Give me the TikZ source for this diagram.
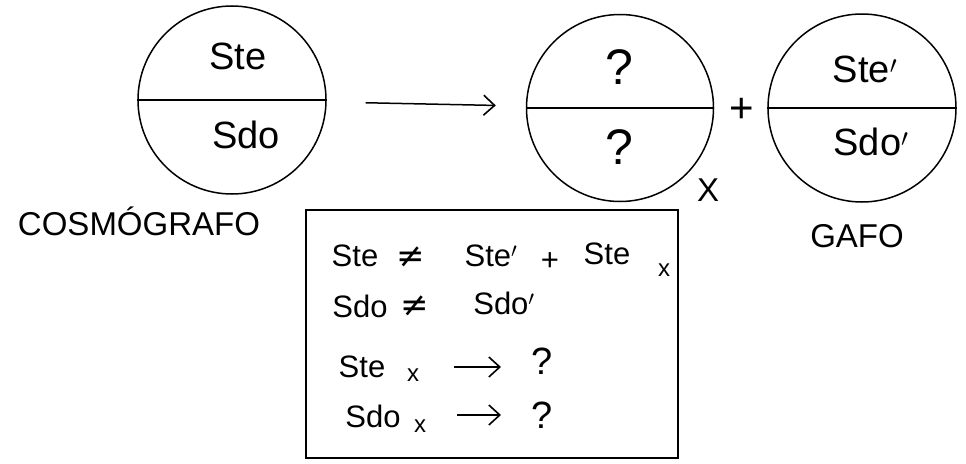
\documentclass[tikz,border=0pt]{standalone}
\usepackage{fontspec}
\setmainfont{Liberation Sans}
\newfontfamily\symf{DejaVu Sans}
\usetikzlibrary{arrows.meta}
\begin{document}
\begin{tikzpicture}[x=1pt,y=-1pt,
  ring/.style={circle,draw,line width=1.5pt,minimum size=#1,inner sep=0pt},
  stroke/.style={line width=1.5pt},
  barb/.style={stroke,-{Straight Barb[length=11pt,width=20pt,line width=1.6pt]}},
  big/.style={font=\fontsize{38}{42}\selectfont,inner sep=0pt},
  quest/.style={font=\fontsize{50}{54}\selectfont,inner sep=0pt},
  lab/.style={font=\fontsize{33}{38}\selectfont,inner sep=0pt},
  plussign/.style={font=\fontsize{42}{46}\selectfont,inner sep=0pt},
  boxtxt/.style={font=\fontsize{31}{36}\selectfont,inner sep=0pt},
  neq/.style={font=\symf\fontsize{34}{38}\selectfont,inner sep=0pt},
  boxq/.style={font=\fontsize{38}{42}\selectfont,inner sep=0pt},
  sub/.style={font=\fontsize{24}{28}\selectfont,inner sep=0pt},
  ]
\useasboundingbox (0,0) rectangle (966,463);
% circles
\node[ring=188pt] (c1) at (232,100) {};
\node[ring=187pt] (c2) at (620,108) {};
\node[ring=188pt] (c3) at (862,108) {};
\draw[stroke] (c1.west) -- (c1.east);
\draw[stroke] (c2.west) -- (c2.east);
\draw[stroke] (c3.west) -- (c3.east);
% circle texts
\node[big] (t1) at (238,56) {Ste};
\node[big] (b1) at (246,135) {Sdo};
\node[quest] (t2) at (619,67) {?};
\node[quest] (b2) at (619,147) {?};
\node[big] (t3) at (865,69) {Ste$'$};
\node[big] (b3) at (871,142) {Sdo$'$};
% arrow and plus
\draw[barb, shorten <=39pt, shorten >=30pt] (c1) -- (c2);
\node[plussign] (plus) at (742,110) {+};
\node[lab] (xlab) at (708,190) {X};
% labels
\node[lab] (cosmo) at (139,221) {COSMÓGRAFO};
\node[lab] (gafo) at (857,236) {GAFO};
% box
\node[draw,stroke,minimum width=372pt,minimum height=248pt,inner sep=0pt] (box) at (492,334) {};
% line 1
\node[boxtxt] (l1a) at (355,256) {Ste};
\node[neq] (l1b) at (411,257) {≠};
\node[boxtxt] (l1c) at (491,256) {Ste$'$};
\node[boxtxt] (l1d) at (550,262) {+};
\node[boxtxt] (l1e) at (607,254) {Ste};
\node[sub] (l1f) at (664,270) {x};
% line 2
\node[boxtxt] (l2a) at (360,306) {Sdo};
\node[neq] (l2b) at (415,306) {≠};
\node[boxtxt] (l2c) at (504,303) {Sdo$'$};
% line 3
\node[boxtxt] (l3a) at (362,367) {Ste};
\node[sub] (l3b) at (413,375) {x};
\coordinate (a3s) at (454,367);
\coordinate (a3e) at (501,367);
\draw[barb] (a3s) -- (a3e);
\node[boxq] (l3d) at (542,361) {?};
% line 4
\node[boxtxt] (l4a) at (373,416) {Sdo};
\node[sub] (l4b) at (420,426) {x};
\coordinate (a4s) at (457,415);
\coordinate (a4e) at (501,415);
\draw[barb] (a4s) -- (a4e);
\node[boxq] (l4d) at (542,415) {?};
\end{tikzpicture}
\end{document}
